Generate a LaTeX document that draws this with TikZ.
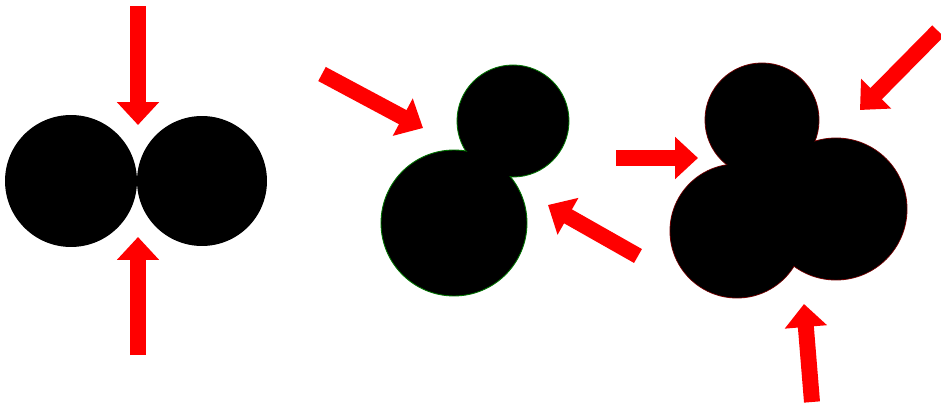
\documentclass[tikz,border=0pt]{standalone}
\usepackage{tikz}
\usetikzlibrary{arrows.meta}
\tikzset{
  % --- particles --------------------------------------------------------
  grain/.style   ={circle, fill=black, inner sep=0pt},
  graing/.style  ={grain, draw=green!45!black, line width=0.5pt},
  grainr/.style  ={grain, draw=red!45!black, line width=0.5pt},
  % --- pressure arrows ---------------------------------------------------
  push/.style    ={-{Triangle[length=4.6mm, width=8.2mm]}, line width=3.2mm,
                   draw=red},
}

\begin{document}
\begin{tikzpicture}[x=0.02cm, y=-0.02cm]
  \useasboundingbox (0,0) rectangle (941,409);

  % ============================= two grains =============================
  \node[grain, minimum size=2.64cm] (a1) at (71,181)  {};
  \node[grain, minimum size=2.60cm] (a2) at (202,181) {};

  \coordinate (at1) at (138,6);   \coordinate (ah1) at (138,125);
  \coordinate (at2) at (138,355); \coordinate (ah2) at (138,237);

  % ============================= grain pair (offset) =============================
  \node[graing, minimum size=2.24cm] (b1) at (513,121) {};
  \node[graing, minimum size=2.92cm] (b2) at (454,223) {};
  \fill (b1.center) circle[radius=1.1cm];

  \coordinate (bt1) at (322,74);  \coordinate (bh1) at (423,128);
  \coordinate (bt2) at (638,256); \coordinate (bh2) at (548,205);

  % ============================= three grains =============================
  \node[grainr, minimum size=2.28cm] (c1) at (762,120) {};
  \node[grainr, minimum size=2.68cm] (c2) at (737,231) {};
  \node[grainr, minimum size=2.84cm] (c3) at (836,209) {};
  \fill (c1.center) circle[radius=1.13cm] (c2.center) circle[radius=1.33cm]
        (c3.center) circle[radius=1.41cm];

  \coordinate (ct1) at (938,31);  \coordinate (ch1) at (860,110);
  \coordinate (ct2) at (616,158); \coordinate (ch2) at (698,158);
  \coordinate (ct3) at (812,402); \coordinate (ch3) at (804,304);

  % ============================= edges =============================
  \draw[push] (at1) -- (ah1);
  \draw[push] (at2) -- (ah2);
  \draw[push] (bt1) -- (bh1);
  \draw[push] (bt2) -- (bh2);
  \draw[push] (ct1) -- (ch1);
  \draw[push] (ct2) -- (ch2);
  \draw[push] (ct3) -- (ch3);

\end{tikzpicture}
\end{document}
